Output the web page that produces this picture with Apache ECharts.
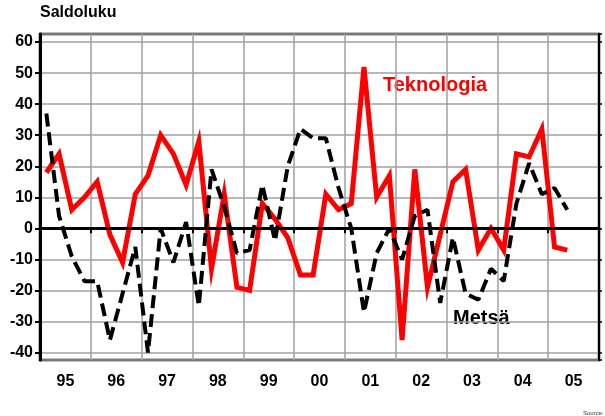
<!DOCTYPE html>
<html>
<head>
<meta charset="utf-8">
<script src="https://cdn.jsdelivr.net/npm/echarts@6/dist/echarts.min.js"></script>
<style>
  html, body { margin: 0; padding: 0; background: #fff; }
  #chart { width: 605px; height: 416px; }
</style>
</head>
<body>
<div id="chart"></div>
<script>
  // vuodet ja neljännekset
  var years = ['95', '96', '97', '98', '99', '00', '01', '02', '03', '04', '05']
  var quarters = []
  years.forEach(function (y) {
    for (var q = 1; q <= 4; q++) quarters.push(y + 'Q' + q)
  })

  // saldoluvut, 1995Q1 - 2005Q2
  var teknologia = [18, 24, 6, 10, 15, -2, -11, 11, 17, 30, 24, 14, 28, -13, 11, -19, -20, 8, 3, -3,
    -15, -15, 11, 6, 8, 52, 10, 17, -36, 19, -19, -2, 15, 19, -7, 0, -7, 24, 23, 32, -6, -7]
  var metsa = [37, 4, -9, -17, -17, -36, -21, -6, -40, 0, -11, 2, -25, 19, 7, -8, -7, 14, -4, 20,
    32, 29, 29, 13, 0, -27, -8, 0, -10, 4, 6, -24, -3, -21, -23, -13, -17, 8, 21, 11, 13, 6]

  var font = "'Liberation Sans', Arial, sans-serif"
  var chart = echarts.init(document.getElementById('chart'))

  var option = {
    animation: false,
    backgroundColor: '#fff',
    grid: {
      left: 40, right: 6, top: 34, bottom: 56,
      show: true, borderColor: '#000', borderWidth: 2.5
    },
    xAxis: [
      {
        type: 'category',
        data: quarters,
        boundaryGap: true,
        show: false
      },
      {
        type: 'category',
        data: years,
        position: 'bottom',
        boundaryGap: true,
        axisLine: { lineStyle: { color: '#000', width: 3 } },
        axisTick: { show: true, length: 5, lineStyle: { color: '#000', width: 2 } },
        axisLabel: { color: '#000', fontFamily: font, fontWeight: 'bold', fontSize: 16, margin: 14 },
        splitLine: { show: true, lineStyle: { color: '#a0a0a0', width: 1.5 } }
      }
    ],
    yAxis: [
      {
        type: 'value',
        min: -42.4,
        max: 62.6,
        splitNumber: 10,
        axisLine: { show: true, lineStyle: { color: '#000', width: 3 } },
        axisTick: { show: true, length: 5, lineStyle: { color: '#000', width: 2 } },
        axisLabel: {
          color: '#000', fontFamily: font, fontWeight: 'bold', fontSize: 16, margin: 7,
          showMinLabel: false, showMaxLabel: false
        },
        splitLine: { show: true, lineStyle: { color: '#a0a0a0', width: 1.5 } }
      },
      {
        type: 'value',
        position: 'right',
        min: -42.4,
        max: 62.6,
        splitNumber: 10,
        axisLine: { show: true, lineStyle: { color: '#000', width: 2 } },
        axisTick: { show: true, length: 3, lineStyle: { color: '#000', width: 1.5 } },
        axisLabel: { show: false },
        splitLine: { show: false }
      }
    ],
    series: [
      {
        name: 'Teknologia',
        type: 'line',
        data: teknologia,
        showSymbol: false,
        lineStyle: { color: '#ff0000', width: 5, join: 'miter' },
        z: 3,
        markLine: {
          silent: true,
          symbol: 'none',
          label: { show: false },
          lineStyle: { color: '#000', width: 2.5, type: 'solid' },
          data: [{ yAxis: 0 }]
        }
      },
      {
        name: 'Metsä',
        type: 'line',
        data: metsa,
        showSymbol: false,
        lineStyle: { color: '#000', width: 4, type: [13, 6] },
        z: 4
      }
    ],
    graphic: [
      {
        type: 'text', left: 40, top: 5,
        style: { text: 'Saldoluku', fill: '#000', font: 'bold 16px ' + font }
      },
      {
        type: 'text', x: 383, y: 85,
        style: { text: 'Teknologia', fill: '#ff0000', font: 'bold 20px ' + font, verticalAlign: 'middle' }
      },
      {
        type: 'text', x: 453, y: 318,
        style: { text: 'Metsä', fill: '#000', font: 'bold 20px ' + font, verticalAlign: 'middle' }
      },
      {
        type: 'text', x: 583, y: 413,
        style: { text: 'Source:', fill: '#333', font: '6px ' + font, verticalAlign: 'middle' }
      }
    ]
  }

  chart.setOption(option)
</script>
</body>
</html>
